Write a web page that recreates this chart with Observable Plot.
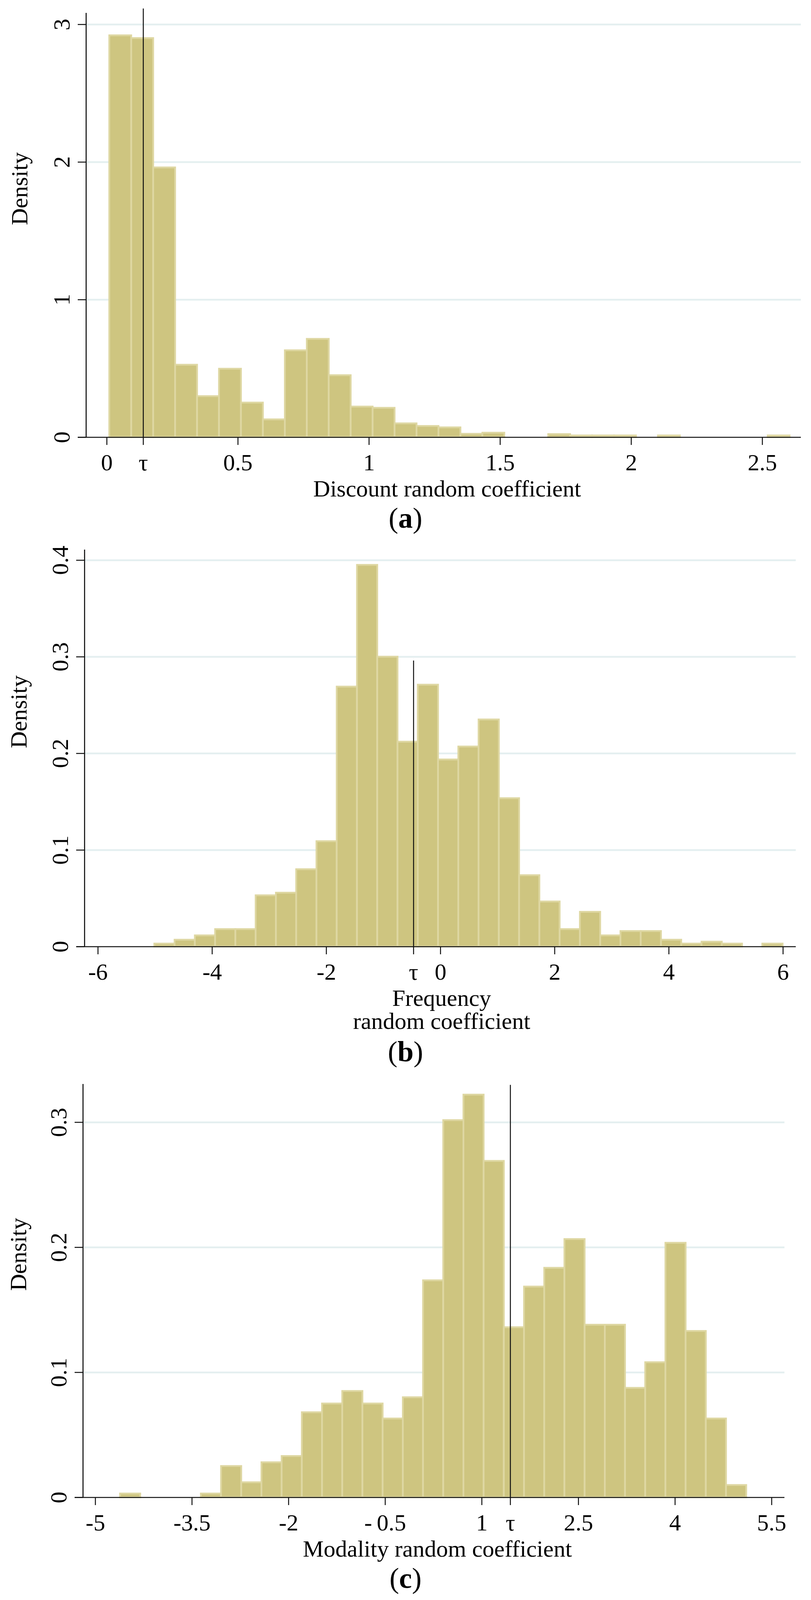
<!DOCTYPE html>
<html>
<head>
<meta charset="utf-8">
<script src="https://cdn.jsdelivr.net/npm/d3@7"></script>
<script src="https://cdn.jsdelivr.net/npm/@observablehq/plot@0.6"></script>
<style>
  html, body { margin: 0; padding: 0; background: #fff; }
  #page { position: relative; width: 2076px; height: 4096px; }
  .panel { position: absolute; left: 0; }
  .cap { position: absolute; left: 0; width: 2076px; text-align: center;
         font-family: "Liberation Serif", "Times New Roman", serif;
         font-size: 74px; line-height: 74px; color: #000; }
</style>
</head>
<body>
<div id="page"></div>
<script>
// (a) discount random coefficient
const discountBinStart = 0.01;
const discountBinWidth = 0.0837;
const discountDensity = [2.92, 2.90, 1.96, 0.526, 0.298, 0.497, 0.251, 0.129, 0.631, 0.714,
  0.45, 0.222, 0.213, 0.10, 0.081, 0.071, 0.024, 0.032, 0, 0,
  0.022, 0.012, 0.012, 0.012, 0, 0.012, 0, 0, 0, 0, 0.012];
const discountTau = 0.139;
const discountXTicks = [0, discountTau, 0.5, 1, 1.5, 2, 2.5];
const discountXLabels = ["0", "τ", "0.5", "1", "1.5", "2", "2.5"];
const discountYTicks = [0, 1, 2, 3];
const discountYLabels = ["0", "1", "2", "3"];

// (b) frequency random coefficient
const frequencyBinStart = -5.01;
const frequencyBinWidth = 0.355;
const frequencyDensity = [0.003, 0.007, 0.0115, 0.018, 0.018, 0.053, 0.0557, 0.080, 0.109, 0.269,
  0.395, 0.300, 0.212, 0.271, 0.1936, 0.207, 0.235, 0.1535, 0.0738, 0.0466,
  0.018, 0.0359, 0.0115, 0.016, 0.016, 0.007, 0.003, 0.005, 0.003, 0, 0.003];
const frequencyTau = -0.472;
const frequencyXTicks = [-6, -4, -2, frequencyTau, 0, 2, 4, 6];
const frequencyXLabels = ["-6", "-4", "-2", "τ", "0", "2", "4", "6"];
const frequencyYTicks = [0, 0.1, 0.2, 0.3, 0.4];
const frequencyYLabels = ["0", "0.1", "0.2", "0.3", "0.4"];

// (c) modality random coefficient
const modalityBinStart = -4.614;
const modalityBinWidth = 0.3136;
const modalityDensity = [0.003, 0, 0, 0, 0.003, 0.025, 0.012, 0.028, 0.033, 0.068,
  0.075, 0.085, 0.075, 0.063, 0.080, 0.1735, 0.3016, 0.322, 0.269, 0.136,
  0.1685, 0.1835, 0.2065, 0.138, 0.138, 0.0875, 0.108, 0.2035, 0.133, 0.063, 0.0098];
const modalityTau = 1.443;
const modalityXTicks = [-5, -3.5, -2, -0.5, 1, modalityTau, 2.5, 4, 5.5];
const modalityXLabels = ["-5", "-3.5", "-2", "-\u20090.5", "1", "τ", "2.5", "4", "5.5"];
const modalityYTicks = [0, 0.1, 0.2, 0.3];
const modalityYLabels = ["0", "0.1", "0.2", "0.3"];

const serif = "'Liberation Serif', 'Times New Roman', serif";
const ink = "#111";

// the browser viewport is only 4096 px tall, so the plot areas are a bit flatter than the source
function histogram(o) {
  const bins = o.density
    .map((d, i) => ({x0: o.binStart + i * o.binWidth, x1: o.binStart + (i + 1) * o.binWidth, d}))
    .filter(b => b.d > 0);
  const plotW = 2076 - o.marginLeft - o.marginRight;
  const overhang = (o.xDomain[1] - o.xDomain[0]) * 21 / plotW;
  const xLab = new Map(o.xTicks.map((t, i) => [t, o.xLabels[i]]));
  const yLab = new Map(o.yTicks.map((t, i) => [t, o.yLabels[i]]));
  return Plot.plot({
    width: 2076,
    height: o.height,
    marginTop: o.marginTop,
    marginBottom: o.marginBottom,
    marginLeft: o.marginLeft,
    marginRight: o.marginRight,
    style: {fontFamily: serif, fontSize: "60px", background: "white", color: "black", overflow: "visible"},
    x: {domain: o.xDomain, label: null},
    y: {domain: o.yDomain, label: null},
    marks: [
      Plot.gridY(o.yTicks.filter(t => t > 0), {stroke: "#e4eff0", strokeOpacity: 1, strokeWidth: 4.5}),
      Plot.rectY(bins, {x1: "x0", x2: "x1", y: "d", fill: "#cec580", stroke: "#ded7a2", strokeWidth: 4.5}),
      Plot.ruleX([o.tau], {y1: 0, y2: o.tauTop, stroke: ink, strokeWidth: 2.5}),
      Plot.ruleY([0], {x1: o.xDomain[0] - overhang, x2: o.xDomain[1], stroke: ink, strokeWidth: 2.7}),
      Plot.ruleX([o.xDomain[0]], {y1: 0, y2: o.yDomain[1], stroke: ink, strokeWidth: 2.7}),
      Plot.axisX(o.xTicks, {tickSize: 20, tickPadding: 21.4, tickFormat: t => xLab.get(t),
        stroke: ink, strokeWidth: 2.5, fontSize: 60, label: null}),
      Plot.axisY(o.yTicks, {tickSize: 21, tickPadding: 22, tickRotate: -90, tickFormat: t => yLab.get(t),
        stroke: ink, strokeWidth: 2.5, fontSize: 60, label: null}),
      Plot.text([o.xTitle], {frameAnchor: "bottom", lineAnchor: "top", dx: o.titleDx, dy: 108.4,
        fontSize: 60, lineHeight: 1}),
      Plot.text(["Density"], {frameAnchor: "left", rotate: -90, lineAnchor: "bottom", dx: o.densityDx, fontSize: 60})
    ]
  });
}

const page = document.getElementById("page");

function place(node, top) {
  const div = document.createElement("div");
  div.className = "panel";
  div.style.top = top + "px";
  div.appendChild(node);
  page.appendChild(div);
}

function caption(letter, top) {
  const div = document.createElement("div");
  div.className = "cap";
  div.style.top = top + "px";
  div.innerHTML = "(<b>" + letter + "</b>)";
  page.appendChild(div);
}

place(histogram({
  density: discountDensity, binStart: discountBinStart, binWidth: discountBinWidth,
  tau: discountTau, tauTop: 3.115,
  xTicks: discountXTicks, xLabels: discountXLabels, yTicks: discountYTicks, yLabels: discountYLabels,
  xDomain: [-0.079, 2.6475], yDomain: [0, 3.083],
  height: 1290, marginTop: 33, marginBottom: 171, marginLeft: 220, marginRight: 26,
  xTitle: "Discount random coefficient", titleDx: 9, densityDx: -151
}), 0);
caption("a", 1289);

place(histogram({
  density: frequencyDensity, binStart: frequencyBinStart, binWidth: frequencyBinWidth,
  tau: frequencyTau, tauTop: 0.296,
  xTicks: frequencyXTicks, xLabels: frequencyXLabels, yTicks: frequencyYTicks, yLabels: frequencyYLabels,
  xDomain: [-6.235, 6.226], yDomain: [0, 0.4108],
  height: 1280, marginTop: 27, marginBottom: 237, marginLeft: 216, marginRight: 39,
  xTitle: "Frequency\nrandom coefficient", titleDx: 3.5, densityDx: -149
}), 1380);
caption("b", 2655);

place(histogram({
  density: modalityDensity, binStart: modalityBinStart, binWidth: modalityBinWidth,
  tau: modalityTau, tauTop: 0.3298,
  xTicks: modalityXTicks, xLabels: modalityXLabels, yTicks: modalityYTicks, yLabels: modalityYLabels,
  xDomain: [-5.192, 5.701], yDomain: [0, 0.3305],
  height: 1255, marginTop: 30, marginBottom: 167, marginLeft: 212, marginRight: 68,
  xTitle: "Modality random coefficient", titleDx: 9, densityDx: -146
}), 2745);
caption("c", 4003);
</script>
</body>
</html>
